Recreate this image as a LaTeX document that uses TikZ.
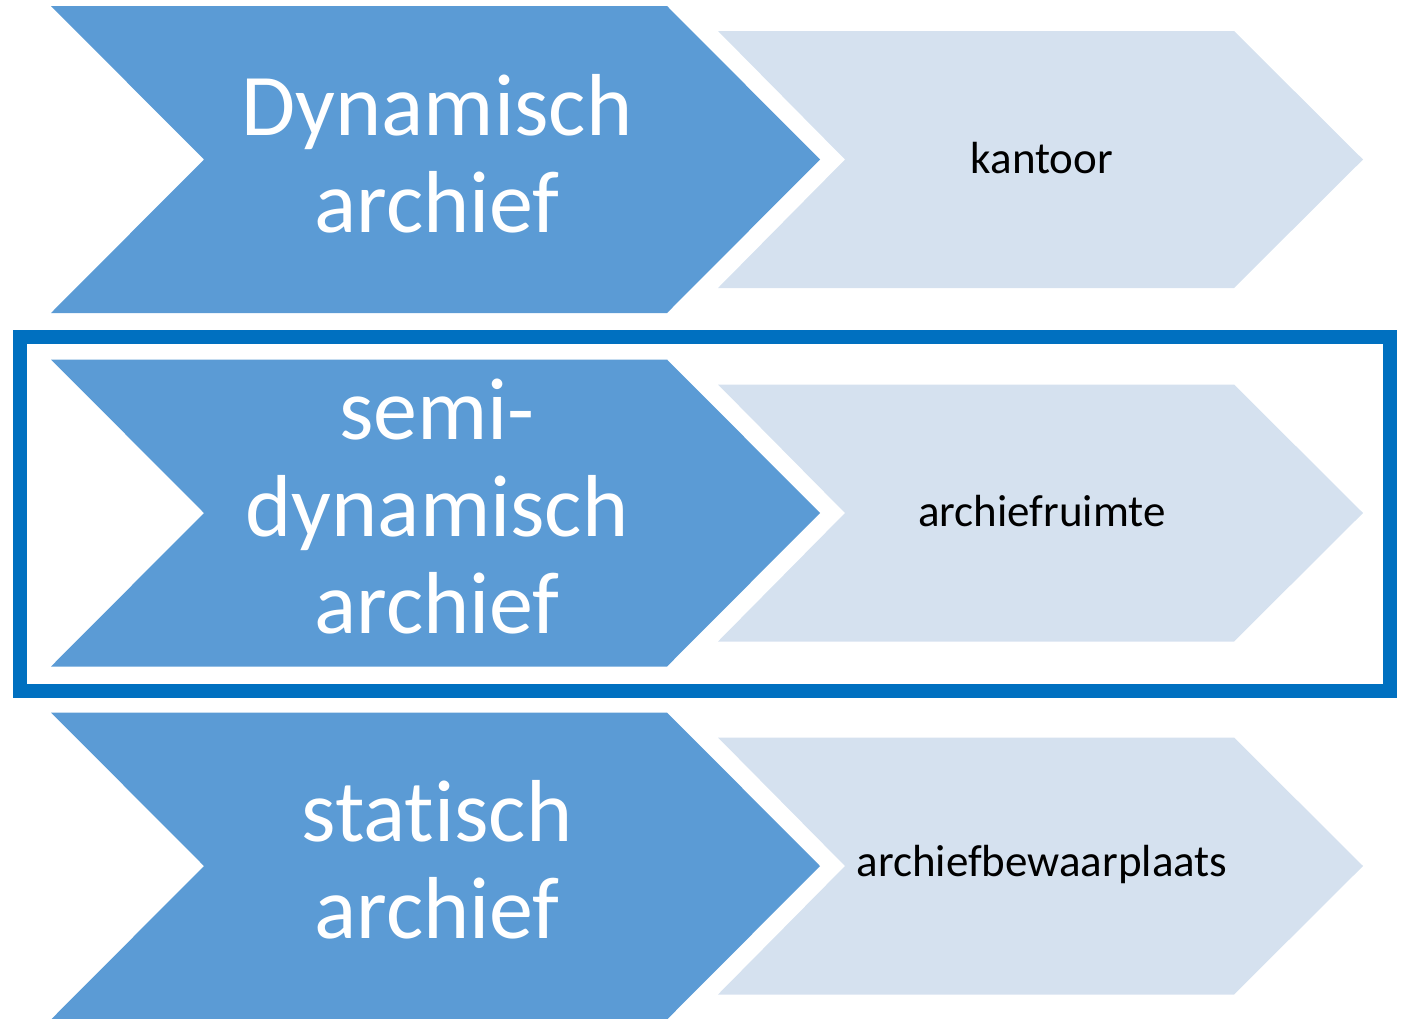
\documentclass[tikz,border=0pt]{standalone}
\usepackage{fontspec}
\setmainfont{Carlito}[RawFeature={-liga;-dlig;-clig}]
\definecolor{dark}{HTML}{5B9BD5}
\definecolor{light}{HTML}{D5E1EF}
\definecolor{frame}{HTML}{0070C0}
\tikzset{
  bigtxt/.style={text=white, align=center, font=\fontsize{88}{97}\selectfont, inner sep=0pt},
  smalltxt/.style={text=black, align=center, font=\fontsize{45}{54}\selectfont, inner sep=0pt},
}
\begin{document}
\begin{tikzpicture}[x=1pt,y=-1pt]
\useasboundingbox (0,0) rectangle (1407,1018);
\foreach \cy in {159.5,513,866}{
  \fill[dark] (51,\cy-153.5) -- (667,\cy-153.5) -- (820,\cy) -- (667,\cy+153.5) -- (51,\cy+153.5) -- (204,\cy) -- cycle;
  \fill[light] (718,\cy-128.5) -- (1234,\cy-128.5) -- (1363,\cy) -- (1234,\cy+128.5) -- (718,\cy+128.5) -- (845,\cy) -- cycle;
}
\node[bigtxt] (b1) at (437,153.5) {Dynamisch\\archief};
\node[bigtxt] (b2) at (437,507) {semi-\\dynamisch\\archief};
\node[bigtxt] (b3) at (437,860) {statisch\\archief};
\node[smalltxt] (s1) at (1042,158) {kantoor};
\node[smalltxt] (s2) at (1042,511.5) {archiefruimte};
\node[smalltxt] (s3) at (1042,864.5) {archiefbewaarplaats};
\draw[frame, line width=14pt] (20,337) rectangle (1390,691);
\end{tikzpicture}
\end{document}
